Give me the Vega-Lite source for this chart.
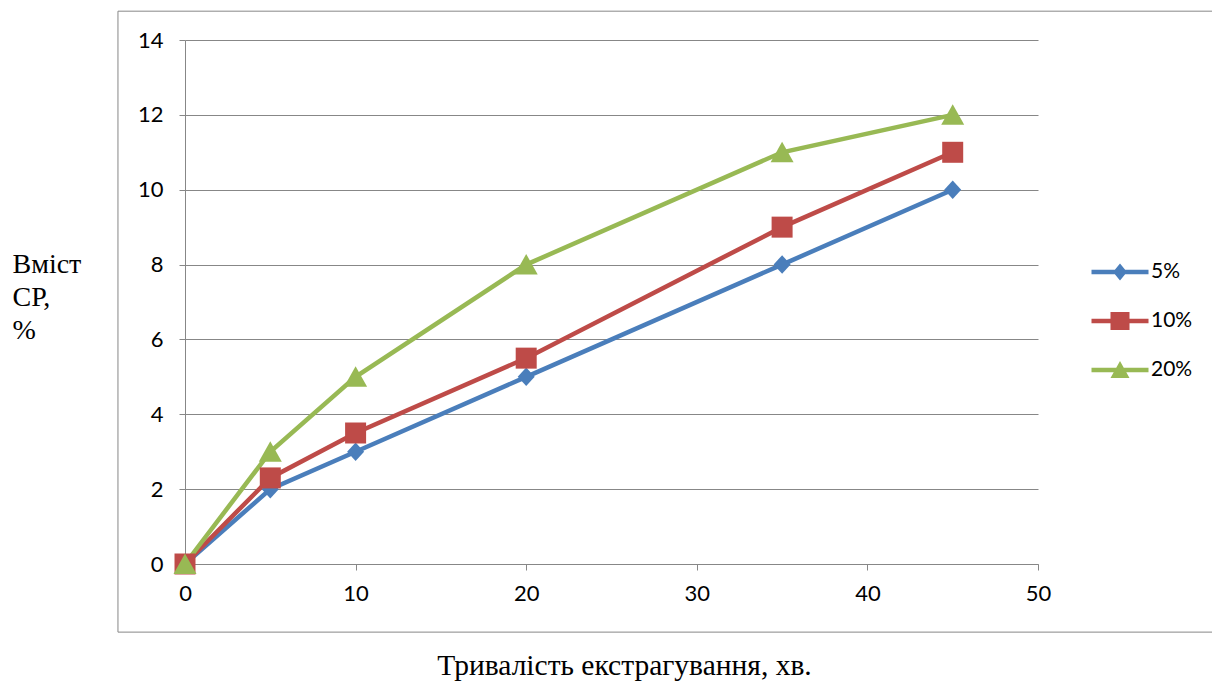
{
  "$schema": "https://vega.github.io/schema/vega-lite/v6.json",
  "autosize": {"type": "none"},
  "padding": {"left": 185, "top": 40, "right": 174, "bottom": 117},
  "width": 853,
  "height": 524,
  "background": "white",
  "config": {
    "view": {"stroke": null},
    "axis": {
      "gridColor": "#878787",
      "domainColor": "#878787",
      "tickColor": "#878787",
      "gridWidth": 1,
      "domainWidth": 1,
      "tickWidth": 1,
      "labelFont": "Lato",
      "labelFontSize": 22,
      "labelColor": "#000000",
      "labelFlush": false,
      "titleColor": "#000000",
      "titleFont": "Liberation Serif",
      "titleFontSize": 28,
      "titleFontWeight": "normal"
    },
    "legend": {
      "orient": "none",
      "legendX": 924.5,
      "legendY": 221.5,
      "padding": 0,
      "symbolSize": 100,
      "symbolStrokeWidth": 0,
      "symbolOpacity": 1,
      "labelFont": "Lato",
      "labelFontSize": 21,
      "labelColor": "#000000",
      "labelOffset": 20.5,
      "rowPadding": 27
    }
  },
  "data": {
    "values": [
      {"t": 0, "v": 0, "series": "5%"},
      {"t": 5, "v": 2, "series": "5%"},
      {"t": 10, "v": 3, "series": "5%"},
      {"t": 20, "v": 5, "series": "5%"},
      {"t": 35, "v": 8, "series": "5%"},
      {"t": 45, "v": 10, "series": "5%"},
      {"t": 0, "v": 0, "series": "10%"},
      {"t": 5, "v": 2.3, "series": "10%"},
      {"t": 10, "v": 3.5, "series": "10%"},
      {"t": 20, "v": 5.5, "series": "10%"},
      {"t": 35, "v": 9, "series": "10%"},
      {"t": 45, "v": 11, "series": "10%"},
      {"t": 0, "v": 0, "series": "20%"},
      {"t": 5, "v": 3, "series": "20%"},
      {"t": 10, "v": 5, "series": "20%"},
      {"t": 20, "v": 8, "series": "20%"},
      {"t": 35, "v": 11, "series": "20%"},
      {"t": 45, "v": 12, "series": "20%"}
    ]
  },
  "resolve": {"scale": {"shape": "independent", "color": "independent"}},
  "layer": [
    {
      "mark": {"type": "rect", "fill": null, "stroke": "#878787", "strokeWidth": 1, "clip": false},
      "transform": [{"filter": "datum.t == 0 && datum.series == '5%'"}],
      "encoding": {
        "x": {"datum": -3.93, "type": "quantitative", "scale": {"domain": [0, 50], "nice": false}},
        "x2": {"datum": 61},
        "y": {"datum": 14.77, "type": "quantitative", "scale": {"domain": [0, 14], "nice": false}},
        "y2": {"datum": -1.82}
      }
    },
    {
      "mark": {"type": "line", "strokeWidth": 4.5},
      "encoding": {
        "x": {
          "field": "t", "type": "quantitative",
          "scale": {"domain": [0, 50], "nice": false},
          "axis": {
            "values": [0, 10, 20, 30, 40, 50],
            "grid": false,
            "tickSize": 6,
            "labelPadding": 13,
            "labelFlush": false,
            "title": "Тривалість екстрагування, хв.",
            "titleFont": "Liberation Serif",
            "titleFontSize": 29.5,
            "titleFontWeight": "normal",
            "titleX": 439,
            "titleY": 110,
            "titleBaseline": "alphabetic",
            "titleAnchor": null
          }
        },
        "y": {
          "field": "v", "type": "quantitative",
          "scale": {"domain": [0, 14], "nice": false},
          "axis": {
            "values": [0, 2, 4, 6, 8, 10, 12, 14],
            "grid": true,
            "tickSize": 6,
            "labelPadding": 16,
            "title": ["Вміст", "СР,", "%"],
            "titleFont": "Liberation Serif",
            "titleFontSize": 28,
            "titleFontWeight": "normal",
            "titleAngle": 0,
            "titleAlign": "left",
            "titleBaseline": "alphabetic",
            "titleX": -173,
            "titleY": 232,
            "titleLineHeight": 33,
            "titleAnchor": null
          }
        },
        "color": {
          "field": "series", "type": "nominal", "title": null, "legend": null,
          "scale": {"domain": ["5%", "10%", "20%"], "range": ["#4A7EBB", "#BE4B48", "#98B954"]}
        },
        "detail": {"field": "series"}
      }
    },
    {
      "mark": {"type": "point", "filled": true, "opacity": 1, "size": 25, "strokeWidth": 0},
      "encoding": {
        "x": {"field": "t", "type": "quantitative"},
        "y": {"field": "v", "type": "quantitative"},
        "color": {
          "field": "series", "type": "nominal", "title": null, "legend": null,
          "scale": {"domain": ["5%", "10%", "20%"], "range": ["#4A7EBB", "#BE4B48", "#98B954"]}
        },
        "shape": {
          "field": "series", "type": "nominal", "legend": null,
          "scale": {
            "domain": ["5%", "10%", "20%"],
            "range": [
              "M0,-3.7L3.4,0L0,3.7L-3.4,0Z",
              "M-4.2,-4.2H4.2V4.2H-4.2Z",
              "M0,-4.2L4.6,4H-4.6Z"
            ]
          }
        }
      }
    },
    {
      "mark": {"type": "point", "filled": true, "opacity": 1, "strokeWidth": 0},
      "transform": [{"filter": "false"}],
      "encoding": {
        "x": {"field": "t", "type": "quantitative"},
        "y": {"field": "v", "type": "quantitative"},
        "color": {
          "field": "series", "type": "nominal", "title": null,
          "scale": {"domain": ["5%", "10%", "20%"], "range": ["#4A7EBB", "#BE4B48", "#98B954"]}
        },
        "shape": {
          "field": "series", "type": "nominal", "title": null,
          "scale": {
            "domain": ["5%", "10%", "20%"],
            "range": [
              "M-5.7,-0.45H5.7V0.45H-5.7Z M0,-1.7L1.4,0L0,1.7L-1.4,0Z",
              "M-5.7,-0.45H5.7V0.45H-5.7Z M-1.9,-1.8H1.9V1.8H-1.9Z",
              "M-5.7,-0.45H5.7V0.45H-5.7Z M0,-1.8L1.9,1.6H-1.9Z"
            ]
          }
        }
      }
    }
  ]
}
